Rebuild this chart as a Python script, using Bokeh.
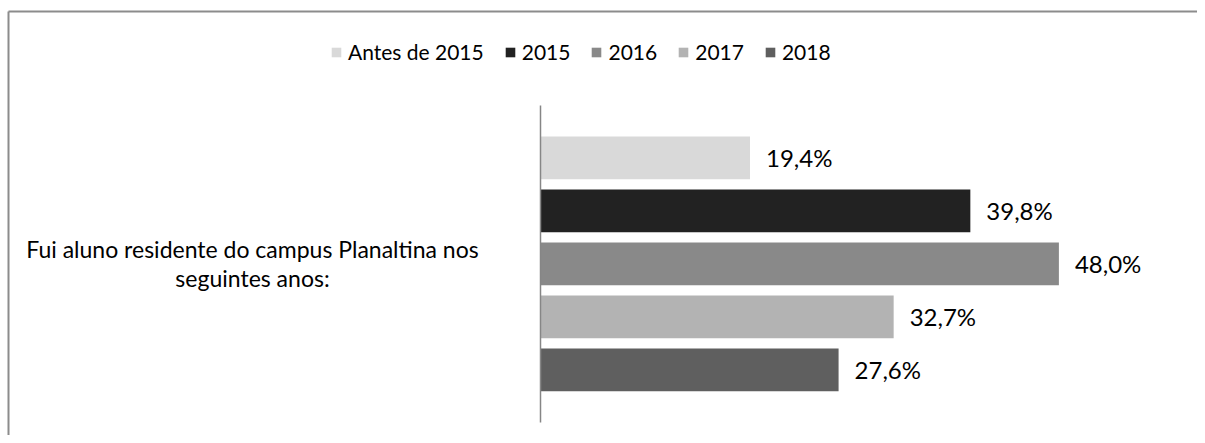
from bokeh.plotting import figure
from bokeh.models import Range1d, ColumnDataSource, Legend, LegendItem, LabelSet
from bokeh.core.properties import value
from bokeh.embed import file_html
from bokeh.resources import INLINE

# ---- data ----
series = ["Antes de 2015", "2015", "2016", "2017", "2018"]
values = [19.4, 39.8, 48.0, 32.7, 27.6]
colors = ["#d9d9d9", "#222222", "#898989", "#b3b3b3", "#5f5f5f"]
labels = ["19,4%", "39,8%", "48,0%", "32,7%", "27,6%"]
category = "Fui aluno residente do campus Planaltina nos\nseguintes anos:"

FONT = "Lato"
W, H = 1197, 435
PX_PER = 10.8          # px per percent
ZERO_X = 540           # px from canvas left to 0%
PITCH = 53.0           # px between bar centers
FIRST_C = 157.3        # px from canvas top to first bar centre

x_start = -ZERO_X / PX_PER
x_end = (W - ZERO_X) / PX_PER
y_top = -FIRST_C / PITCH
y_bot = y_top + H / PITCH

def px_x(px):
    return x_start + px / PX_PER

def px_y(py):
    return y_top + py / PITCH

p = figure(width=W, height=H, output_backend="svg", toolbar_location=None,
           x_range=Range1d(x_start, x_end), y_range=Range1d(y_bot, y_top),
           min_border=0)
p.xaxis.visible = False
p.yaxis.visible = False
p.grid.visible = False
p.outline_line_color = None
p.background_fill_color = "white"
p.border_fill_color = "white"

# chart-area border (top and left visible)
p.segment(x0=[px_x(8), px_x(8)], y0=[px_y(11), px_y(11)],
          x1=[x_end, px_x(8)], y1=[px_y(11), y_bot],
          line_color="#8c8c8c", line_width=2)

idx = list(range(len(series)))
src = ColumnDataSource(dict(y=idx, v=values, c=colors, s=series, lab=labels))

items = []
for i in idx:
    r = p.hbar(y=i, left=0, right=values[i], height=42.7 / PITCH,
               fill_color=colors[i], line_color=None)
    items.append(LegendItem(label=series[i], renderers=[r]))

# axis line at 0
p.segment(x0=0, x1=0, y0=px_y(105), y1=px_y(422),
          line_color="#868686", line_width=1.5)

# value labels
p.add_layout(LabelSet(x="v", y="y", text="lab", source=src, x_offset=16,
                      text_baseline="middle", text_font=value(FONT),
                      text_font_size="24px", text_color="#000000"))

# category label
p.text(x=[px_x(252)], y=[2], text=[category],
       text_align="center", text_baseline="middle", text_font=value(FONT),
       text_font_size="23px", text_color="#000000", text_line_height=1.05)

legend = Legend(items=items, orientation="horizontal", location=(330, 371),
                glyph_width=12, glyph_height=12, label_standoff=6, spacing=20,
                label_text_font=FONT, label_text_font_size="21px",
                label_text_color="#000000", border_line_color=None,
                background_fill_alpha=0, padding=0, margin=0)
p.add_layout(legend, "center")

open("out.html", "w").write(file_html(p, INLINE))
